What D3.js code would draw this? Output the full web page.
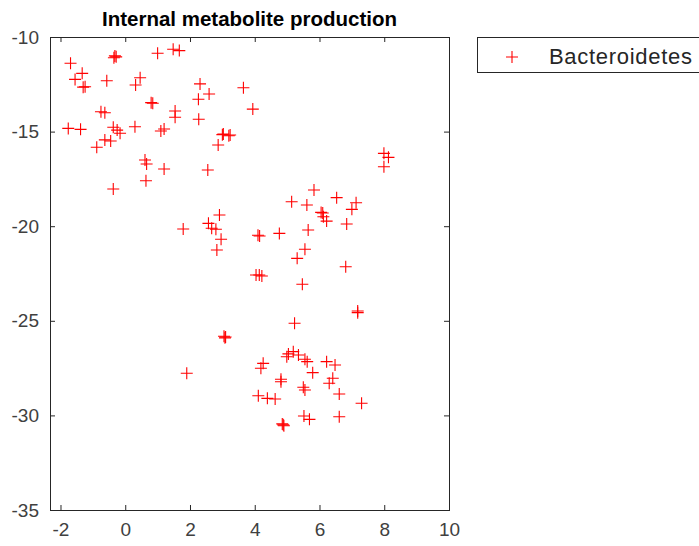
<!DOCTYPE html>
<html>
<head>
<meta charset="utf-8">
<script src="https://cdn.jsdelivr.net/npm/d3@7"></script>
<style>
  html, body { margin: 0; padding: 0; background: #fff; }
  svg { display: block; }
</style>
</head>
<body>
<svg id="chart" width="699" height="546"></svg>
<script>
const title = "Internal metabolite production";
const seriesName = "Bacteroidetes";
const xTicks = [-2, 0, 2, 4, 6, 8, 10];
const yTicks = [-35, -30, -25, -20, -15, -10];

const xValues = [
  -1.69, -0.32, -0.35, -0.28, 1.00, 1.48, 1.67, -1.33, -1.55, -1.24, -1.30, -0.57, 0.46, 0.32,
  2.31, 2.59, 2.26, 3.65, 3.94, 0.80, 0.85, 1.54, 1.54, -0.75, -0.63, 2.27, -1.76, -1.38,
  -0.37, -0.25, -0.16, 0.30, 1.10, 1.20, 3.03, 3.00, 3.24, 3.20, 2.87, -0.63, -0.45, -0.88,
  0.61, 0.66, 1.20, 2.55, 0.64, -0.37,
  7.99, 8.13, 7.99, 5.83, 5.14, 5.61, 6.53, 7.13, 7.00, 6.05, 6.10, 6.12, 6.22, 6.84,
  2.91, 2.57, 2.67, 2.80, 1.79, 2.96, 2.83, 4.10, 4.15, 4.76, 5.65, 5.55, 5.31, 6.81,
  4.04, 4.14, 4.22, 5.47, 7.18, 7.18, 5.23, 3.05, 3.10, 3.08,
  1.90, 5.04, 5.19, 5.35, 4.99, 5.55, 5.62, 6.22, 6.48, 4.26, 4.19, 5.79, 4.81, 4.81,
  6.41, 6.30, 5.50, 5.55, 6.61, 4.11, 4.39, 4.63, 7.30, 5.52, 5.69, 6.61, 4.85, 4.90, 4.88
];
const yValues = [
  -11.39, -11.00, -11.10, -11.05, -10.86, -10.65, -10.72, -11.92, -12.24, -12.63, -12.65, -12.31, -12.15, -12.54,
  -12.48, -13.01, -13.29, -12.68, -13.81, -13.47, -13.50, -13.91, -14.24, -13.95, -14.00, -14.35, -14.83, -14.88,
  -14.77, -14.92, -15.09, -14.74, -14.97, -14.86, -15.13, -15.16, -15.18, -15.22, -15.71, -15.44, -15.50, -15.83,
  -16.50, -16.71, -16.98, -17.03, -17.60, -18.03,
  -16.15, -16.36, -16.86, -18.09, -18.71, -18.88, -18.49, -18.76, -19.11, -19.27, -19.30, -19.50, -19.73, -19.88,
  -19.41, -19.85, -20.11, -20.16, -20.15, -20.69, -21.26, -20.48, -20.52, -20.38, -20.20, -21.22, -21.70, -22.14,
  -22.58, -22.58, -22.63, -23.07, -24.48, -24.57, -25.13, -25.82, -25.86, -25.90,
  -27.77, -26.75, -26.63, -26.81, -26.90, -27.03, -27.16, -27.16, -27.34, -27.25, -27.51, -27.74, -28.09, -28.22,
  -28.04, -28.30, -28.51, -28.66, -28.87, -28.96, -29.10, -29.13, -29.36, -30.03, -30.21, -30.07, -30.45, -30.55, -30.50
];

const axisColor = "#262626";
const labelColor = "#404040";
const markerColor = "#ff0000";
const font = "'Liberation Sans', Arial, Helvetica, sans-serif";

const svg = d3.select("#chart");
const pLeft = 50, pRight = 449, pTop = 37, pBottom = 510;

const x = d3.scaleLinear().domain([-2.324, 10]).range([pLeft, pRight]);
const y = d3.scaleLinear().domain([-35, -10]).range([pBottom, pTop]);

// points
const plus = "M-6,0H6M0,-6V6";
svg.append("g")
  .selectAll("path")
  .data(d3.range(xValues.length))
  .join("path")
  .attr("transform", i => `translate(${x(xValues[i])},${y(yValues[i])})`)
  .attr("d", plus)
  .attr("fill", "none")
  .attr("stroke", markerColor)
  .attr("stroke-width", 1.1);

// axes
const tickLen = 5;
const fmt = d => String(d);
const xAxisB = d3.axisBottom(x).tickValues(xTicks).tickFormat(fmt).tickSizeInner(-tickLen).tickSizeOuter(0).tickPadding(13);
const xAxisT = d3.axisTop(x).tickValues(xTicks).tickSizeInner(-tickLen).tickSizeOuter(0).tickFormat("");
const yAxisL = d3.axisLeft(y).tickValues(yTicks).tickFormat(fmt).tickSizeInner(-tickLen).tickSizeOuter(0).tickPadding(11);
const yAxisR = d3.axisRight(y).tickValues(yTicks).tickSizeInner(-tickLen).tickSizeOuter(0).tickFormat("");

function style(g) {
  g.select(".domain").remove();
  g.selectAll("line").attr("stroke", axisColor).attr("stroke-width", 1);
  g.selectAll("text").attr("fill", labelColor).style("font-family", font).style("font-size", "19px");
}

svg.append("g").attr("transform", `translate(0,${pBottom})`).call(xAxisB).call(style);
svg.append("g").attr("transform", `translate(0,${pTop})`).call(xAxisT).call(style);
svg.append("g").attr("transform", `translate(${pLeft},0)`).call(yAxisL).call(style);
svg.append("g").attr("transform", `translate(${pRight},0)`).call(yAxisR).call(style);

// box
svg.append("rect")
  .attr("x", pLeft + 0.5).attr("y", pTop + 0.5)
  .attr("width", pRight - pLeft).attr("height", pBottom - pTop)
  .attr("fill", "none").attr("stroke", axisColor).attr("stroke-width", 1);

// title
svg.append("text")
  .attr("x", (pLeft + pRight) / 2).attr("y", 26)
  .attr("text-anchor", "middle")
  .style("font-family", font).style("font-size", "20.5px").style("font-weight", "bold")
  .attr("fill", "#000")
  .text(title);

// legend
const lg = svg.append("g");
lg.append("rect")
  .attr("x", 477.5).attr("y", 37.5).attr("width", 240).attr("height", 35)
  .attr("fill", "#fff").attr("stroke", axisColor).attr("stroke-width", 1);
lg.append("path")
  .attr("transform", "translate(512,57)")
  .attr("d", plus).attr("fill", "none").attr("stroke", markerColor).attr("stroke-width", 1.1);
lg.append("text")
  .attr("x", 549).attr("y", 64)
  .style("font-family", font).style("font-size", "22px").style("letter-spacing", "0.7px")
  .attr("fill", axisColor)
  .text(seriesName);
</script>
</body>
</html>
